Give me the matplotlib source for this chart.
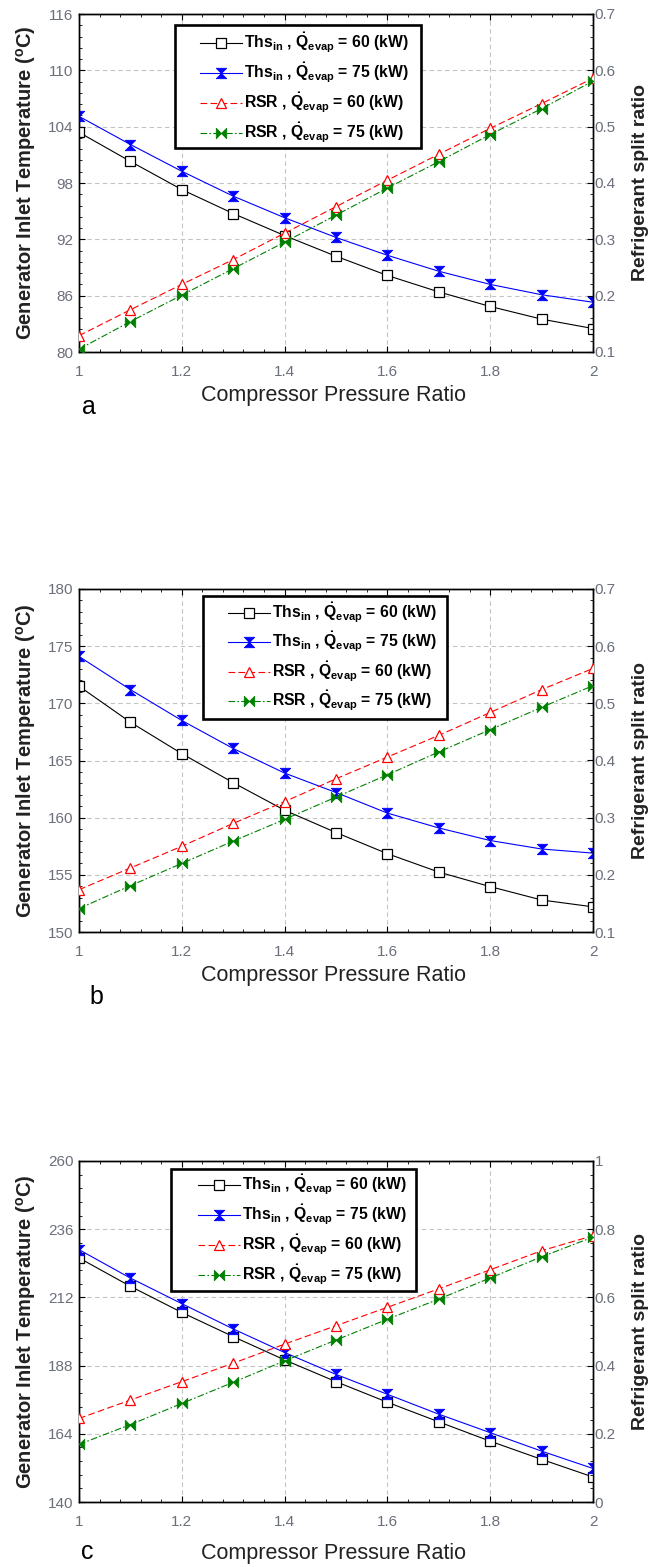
import matplotlib
matplotlib.use("Agg")
import matplotlib.pyplot as plt
import numpy as np
from matplotlib.path import Path
from matplotlib.ticker import FixedLocator, AutoMinorLocator, FuncFormatter
from matplotlib.patches import Rectangle
from matplotlib import font_manager
from matplotlib.font_manager import FontProperties


def pick_font(cands):
    for c in cands:
        try:
            font_manager.findfont(FontProperties(family=c), fallback_to_default=False)
            return c
        except Exception:
            pass
    return 'DejaVu Sans'


NARROW = pick_font(['Liberation Sans Narrow', 'Arial Narrow'])
HAS_NARROW = NARROW in ('Liberation Sans Narrow', 'Arial Narrow')
BASE = pick_font(['Liberation Sans', 'Arial'])
LEG_FONT = NARROW if HAS_NARROW else BASE

plt.rcParams['font.family'] = [BASE, 'DejaVu Sans']
plt.rcParams['mathtext.fontset'] = 'custom'
plt.rcParams['mathtext.rm'] = LEG_FONT
plt.rcParams['mathtext.bf'] = LEG_FONT + ':bold'
plt.rcParams['mathtext.it'] = LEG_FONT + ':italic'
plt.rcParams['mathtext.default'] = 'bf'

pressure_ratio = [1.0, 1.1, 1.2, 1.3, 1.4, 1.5, 1.6, 1.7, 1.8, 1.9, 2.0]
x_ticks = [1.0, 1.2, 1.4, 1.6, 1.8, 2.0]

# Panel a
a_ths60 = [103.4, 100.3, 97.3, 94.75, 92.4, 90.2, 88.15, 86.4, 84.85, 83.5, 82.5]
a_ths75 = [105.1, 102.1, 99.25, 96.6, 94.3, 92.2, 90.3, 88.6, 87.2, 86.1, 85.3]
a_rsr60 = [0.129, 0.175, 0.220, 0.264, 0.311, 0.358, 0.405, 0.451, 0.497, 0.541, 0.586]
a_rsr75 = [0.105, 0.154, 0.201, 0.248, 0.295, 0.343, 0.391, 0.438, 0.486, 0.532, 0.581]
a_left_ticks = [80, 86, 92, 98, 104, 110, 116]
a_right_ticks = [0.1, 0.2, 0.3, 0.4, 0.5, 0.6, 0.7]

# Panel b
b_ths60 = [171.5, 168.35, 165.6, 163.06, 160.65, 158.7, 156.85, 155.24, 153.97, 152.8, 152.2]
b_ths75 = [174.1, 171.2, 168.5, 166.05, 163.9, 162.2, 160.4, 159.1, 158.0, 157.26, 156.9]
b_rsr60 = [0.174, 0.212, 0.250, 0.290, 0.328, 0.368, 0.406, 0.444, 0.484, 0.524, 0.561]
b_rsr75 = [0.141, 0.181, 0.220, 0.259, 0.297, 0.336, 0.375, 0.415, 0.454, 0.493, 0.531]
b_left_ticks = [150, 155, 160, 165, 170, 175, 180]
b_right_ticks = [0.1, 0.2, 0.3, 0.4, 0.5, 0.6, 0.7]

# Panel c
c_ths60 = [225.9, 215.9, 206.7, 198.2, 190.0, 182.35, 175.1, 168.2, 161.4, 155.0, 148.8]
c_ths75 = [228.8, 218.8, 209.8, 200.9, 192.6, 184.9, 177.9, 170.9, 164.4, 157.9, 151.8]
c_rsr60 = [0.245, 0.299, 0.353, 0.407, 0.463, 0.517, 0.571, 0.625, 0.681, 0.737, 0.781]
c_rsr75 = [0.169, 0.227, 0.289, 0.351, 0.414, 0.475, 0.536, 0.595, 0.657, 0.719, 0.777]
c_left_ticks = [140, 164, 188, 212, 236, 260]
c_right_ticks = [0.0, 0.2, 0.4, 0.6, 0.8, 1.0]

legend_labels = [
    r'Ths$_{in}$ , $\dot{Q}_{evap}$ = 60 (kW)',
    r'Ths$_{in}$ , $\dot{Q}_{evap}$ = 75 (kW)',
    r'RSR , $\dot{Q}_{evap}$ = 60 (kW)',
    r'RSR , $\dot{Q}_{evap}$ = 75 (kW)',
]

hourglass = Path([(-1, 1), (1, 1), (0, 0), (1, -1), (-1, -1), (0, 0), (-1, 1)],
                 [Path.MOVETO, Path.LINETO, Path.LINETO, Path.LINETO, Path.LINETO, Path.LINETO, Path.CLOSEPOLY])
bowtie = Path([(-1, 1), (0, 0), (-1, -1), (-1, 1), (1, 1), (0, 0), (1, -1), (1, 1)],
              [Path.MOVETO, Path.LINETO, Path.LINETO, Path.CLOSEPOLY,
               Path.MOVETO, Path.LINETO, Path.LINETO, Path.CLOSEPOLY])

W, H = 650, 1567
fig = plt.figure(figsize=(W / 100, H / 100), dpi=100)

panels = [
    dict(data=(a_ths60, a_ths75, a_rsr60, a_rsr75), lt=a_left_ticks, rt=a_right_ticks,
         top=14, bottom=352, box=(175, 25, 421, 148), rows=(43, 133), hx=200,
         letter='a', letter_xy=(89, 407), xlabel_y=396),
    dict(data=(b_ths60, b_ths75, b_rsr60, b_rsr75), lt=b_left_ticks, rt=b_right_ticks,
         top=589, bottom=932, box=(203, 596, 447, 719), rows=(613, 701), hx=228,
         letter='b', letter_xy=(96, 997), xlabel_y=976),
    dict(data=(c_ths60, c_ths75, c_rsr60, c_rsr75), lt=c_left_ticks, rt=c_right_ticks,
         top=1161, bottom=1502, box=(171, 1169, 416, 1291), rows=(1185, 1275), hx=198,
         letter='c', letter_xy=(87, 1552), xlabel_y=1553),
]

left_px, right_px = 79, 593
tick_color = '#6a6f7a'
fmt = FuncFormatter(lambda v, pos: '%g' % round(v, 2))
leg_size = 12.5 if HAS_NARROW else 11.3
fs_px = leg_size * 100 / 72

for p in panels:
    ax = fig.add_axes([left_px / W, 1 - p['bottom'] / H, (right_px - left_px) / W, (p['bottom'] - p['top']) / H])
    ax2 = ax.twinx()
    ths60, ths75, rsr60, rsr75 = p['data']
    h1, = ax.plot(pressure_ratio, ths60, color='black', lw=0.8, marker='s', ms=6.5,
                  mfc='white', mec='black', mew=0.9, zorder=3)
    h2, = ax.plot(pressure_ratio, ths75, color='blue', lw=0.8, marker=hourglass, ms=7.5,
                  mfc='blue', mec='blue', mew=0.6, zorder=3)
    h3, = ax2.plot(pressure_ratio, rsr60, color='red', lw=0.8, ls=(0, (6, 3)), marker='^', ms=7,
                   mfc='white', mec='red', mew=0.9, zorder=3)
    h4, = ax2.plot(pressure_ratio, rsr75, color='green', lw=0.8, ls=(0, (6, 2, 1.5, 2)), marker=bowtie, ms=7.5,
                   mfc='green', mec='green', mew=0.6, zorder=3)

    ax.set_xlim(1, 2)
    ax.set_ylim(p['lt'][0], p['lt'][-1])
    ax2.set_ylim(p['rt'][0], p['rt'][-1])
    ax.xaxis.set_major_locator(FixedLocator(x_ticks))
    ax.xaxis.set_minor_locator(AutoMinorLocator(5))
    ax.yaxis.set_major_locator(FixedLocator(p['lt']))
    ax.yaxis.set_minor_locator(AutoMinorLocator(5))
    ax2.yaxis.set_major_locator(FixedLocator(p['rt']))
    ax2.yaxis.set_minor_locator(AutoMinorLocator(5))
    ax.xaxis.set_major_formatter(fmt)
    ax.yaxis.set_major_formatter(fmt)
    ax2.yaxis.set_major_formatter(fmt)

    ax.grid(True, which='major', ls=(0, (4, 3)), color='#c4c4c4', lw=0.8)
    ax.set_axisbelow(True)
    ax.tick_params(which='both', direction='in', top=True, right=False, colors='black',
                   labelcolor=tick_color, labelsize=11)
    ax.tick_params(axis='x', which='major', pad=9)
    ax.tick_params(axis='y', which='major', pad=4)
    ax.tick_params(which='major', length=4)
    ax.tick_params(which='minor', length=2.5)
    ax2.tick_params(which='both', direction='in', colors='black', labelcolor=tick_color,
                    labelsize=11, pad=1)
    ax2.tick_params(which='major', length=4)
    ax2.tick_params(which='minor', length=2.5)
    for s in list(ax.spines.values()) + list(ax2.spines.values()):
        s.set_linewidth(1.0)

    ax.set_ylabel(r'Generator Inlet Temperature ($^{\mathregular{o}}$C)', fontsize=14.5, fontweight='bold',
                  color='#222222', labelpad=7)
    ax2.set_ylabel('Refrigerant split ratio', fontsize=14, fontweight='bold',
                   color='#222222', labelpad=12)

    fig.text(333 / W, 1 - p['xlabel_y'] / H, 'Compressor Pressure Ratio', ha='center', va='center',
             fontsize=15.5, color='#222222')
    fig.text(p['letter_xy'][0] / W, 1 - p['letter_xy'][1] / H, p['letter'], ha='center', va='center',
             fontsize=18, color='black')

    # legend frame
    bx0, by0, bx1, by1 = p['box']
    rect = Rectangle((bx0 / W, 1 - by1 / H), (bx1 - bx0) / W, (by1 - by0) / H, transform=fig.transFigure,
                     facecolor='white', edgecolor='black', lw=1.9, zorder=5)
    ax2.add_patch(rect)

    ax_h = p['bottom'] - p['top']
    yc = (p['rows'][0] + p['rows'][1]) / 2
    lx = (p['hx'] - left_px) / (right_px - left_px)
    ly = (p['bottom'] - yc) / ax_h
    row_gap_px = (p['rows'][1] - p['rows'][0]) / 3.0
    leg_kw = dict(loc='center left', bbox_to_anchor=(lx, ly), borderaxespad=0, borderpad=0,
                  frameon=False, numpoints=1, handlelength=42 / fs_px, handletextpad=0.12,
                  prop={'size': leg_size, 'weight': 'bold', 'family': LEG_FONT})
    leg = ax2.legend([h1, h2, h3, h4], legend_labels, labelspacing=0.2, **leg_kw)
    fig.canvas.draw()
    tb = [t.get_window_extent() for t in leg.get_texts()]
    cur_gap = ((tb[0].y0 + tb[0].y1) - (tb[-1].y0 + tb[-1].y1)) / 2 / 3.0
    new_ls = 0.2 + (row_gap_px - cur_gap) / fs_px
    leg.remove()
    leg = ax2.legend([h1, h2, h3, h4], legend_labels, labelspacing=max(new_ls, 0.0), **leg_kw)
    leg.set_zorder(10)

fig.savefig('out.png', dpi=100)
